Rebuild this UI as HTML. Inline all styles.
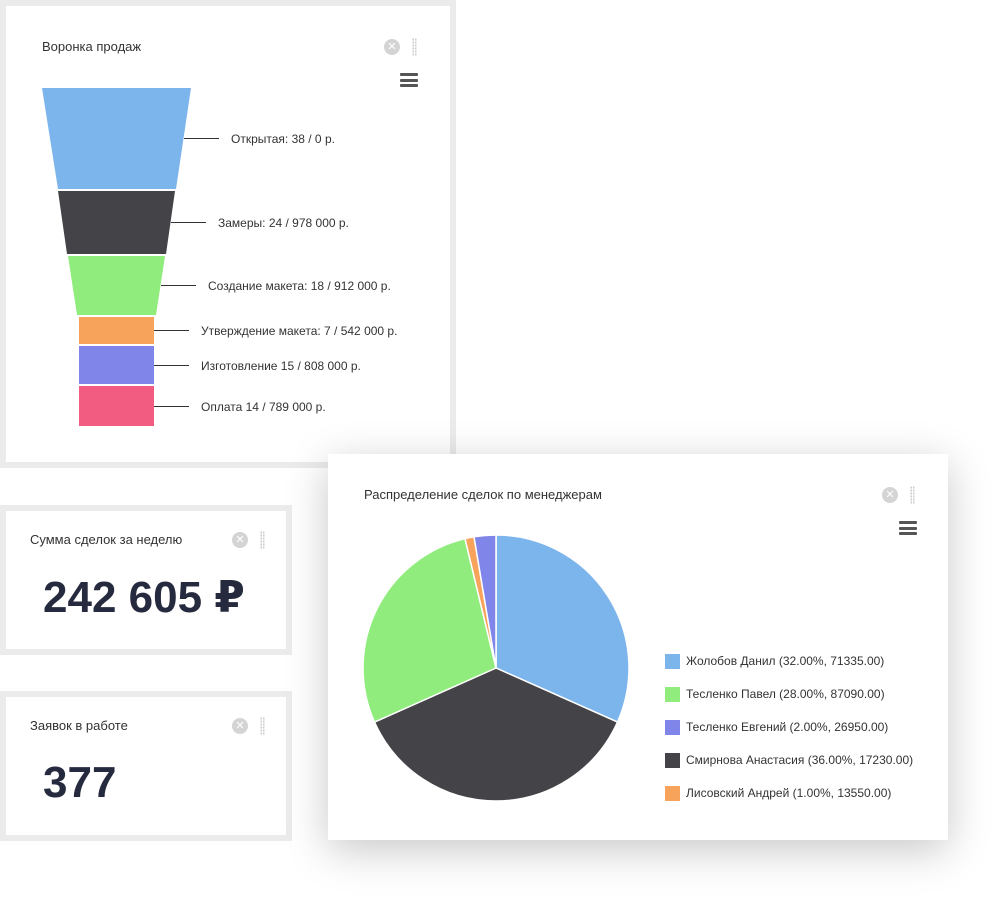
<!DOCTYPE html>
<html><head><meta charset="utf-8"><style>
body{margin:0;width:1008px;height:916px;background:#fff;position:relative;overflow:hidden;font-family:"Liberation Sans","DejaVu Sans",sans-serif;color:#333}
.p{position:absolute;background:#fff;border:6px solid #ebebeb;box-sizing:border-box}
.t{position:absolute;font-size:13px;color:#333}
.x{position:absolute;width:16px;height:16px;border-radius:50%;background:#d4d4d4;color:#fff;font-size:11px;line-height:16px;text-align:center}
.d{position:absolute;width:5px;height:18px;background-image:radial-gradient(circle,#ccc 0.9px,transparent 1px);background-size:2.5px 3px}
.m{position:absolute;width:18px;height:14px}
.m i{display:block;height:3px;background:#555;margin-bottom:2.5px;border-radius:1px}
.big{position:absolute;font-size:44px;font-weight:bold;color:#262a3e}
.lg{position:absolute;left:665px;font-size:12px;color:#333}
.lg b{position:absolute;left:0;top:1px;width:15px;height:15px}
.lg span{position:absolute;left:21px;top:0;white-space:nowrap;line-height:17px}
</style></head><body>
<div class="p" style="left:0;top:0;width:456px;height:468px"></div>
<div class="t" style="left:42px;top:39px">Воронка продаж</div>
<div class="x" style="left:384px;top:39px">✕</div>
<div class="d" style="left:412px;top:38px"></div>
<div class="m" style="left:400px;top:73px"><i></i><i></i><i></i></div>
<svg style="position:absolute;left:0;top:0" width="456" height="468">
<polygon points="42,88 191,88 176,189 58,189" fill="#7cb5ec"/>
<polygon points="58,191 175,191 166,254 67,254" fill="#434348"/>
<polygon points="68,256 165,256 156,315 77,315" fill="#90ed7d"/>
<rect x="79" y="317" width="75" height="27" fill="#f7a35c"/>
<rect x="79" y="346" width="75" height="38" fill="#8085e9"/>
<rect x="79" y="386" width="75" height="40" fill="#f15c80"/>
<g stroke="#333" stroke-width="1">
<line x1="184" y1="138.5" x2="219" y2="138.5"/><line x1="171" y1="222.5" x2="206" y2="222.5"/>
<line x1="161" y1="285.5" x2="196" y2="285.5"/><line x1="154" y1="330.5" x2="189" y2="330.5"/>
<line x1="154" y1="365.5" x2="189" y2="365.5"/><line x1="154" y1="406.5" x2="189" y2="406.5"/></g>
<g font-size="12" fill="#333" font-family="Liberation Sans,sans-serif">
<text x="231" y="143">Открытая: 38 / 0 р.</text>
<text x="218" y="227">Замеры: 24 / 978 000 р.</text>
<text x="208" y="290">Создание макета: 18 / 912 000 р.</text>
<text x="201" y="335">Утверждение макета: 7 / 542 000 р.</text>
<text x="201" y="370">Изготовление 15 / 808 000 р.</text>
<text x="201" y="411">Оплата 14 / 789 000 р.</text></g>
</svg>

<div class="p" style="left:0;top:505px;width:292px;height:150px"></div>
<div class="t" style="left:30px;top:532px">Сумма сделок за неделю</div>
<div class="x" style="left:232px;top:532px">✕</div>
<div class="d" style="left:260px;top:531px"></div>
<div class="big" style="left:43px;top:572px">242 605 ₽</div>

<div class="p" style="left:0;top:691px;width:292px;height:150px"></div>
<div class="t" style="left:30px;top:718px">Заявок в работе</div>
<div class="x" style="left:232px;top:718px">✕</div>
<div class="d" style="left:260px;top:717px"></div>
<div class="big" style="left:43px;top:758px">377</div>

<div style="position:absolute;left:328px;top:454px;width:620px;height:386px;background:#fff;box-shadow:0 10px 40px rgba(0,0,0,0.22)"></div>
<div class="t" style="left:364px;top:487px">Распределение сделок по менеджерам</div>
<div class="x" style="left:882px;top:487px">✕</div>
<div class="d" style="left:910px;top:486px"></div>
<div class="m" style="left:899px;top:521px"><i></i><i></i><i></i></div>
<svg style="position:absolute;left:0;top:0" width="1008" height="916">
<g stroke="#fff" stroke-width="1.5" stroke-linejoin="round">
<path d="M496,668 L496,535 A133,133 0 0 1 617.5,722.1 Z" fill="#7cb5ec"/>
<path d="M496,668 L617.5,722.1 A133,133 0 0 1 374.5,722.1 Z" fill="#434348"/>
<path d="M496,668 L374.5,722.1 A133,133 0 0 1 465,538.7 Z" fill="#90ed7d"/>
<path d="M496,668 L465,538.7 A133,133 0 0 1 474,536.8 Z" fill="#f7a35c"/>
<path d="M496,668 L474,536.8 A133,133 0 0 1 496,535 Z" fill="#8085e9"/>
</g></svg>
<div class="lg" style="top:653px"><b style="background:#7cb5ec"></b><span>Жолобов Данил (32.00%, 71335.00)</span></div>
<div class="lg" style="top:686px"><b style="background:#90ed7d"></b><span>Тесленко Павел (28.00%, 87090.00)</span></div>
<div class="lg" style="top:719px"><b style="background:#8085e9"></b><span>Тесленко Евгений (2.00%, 26950.00)</span></div>
<div class="lg" style="top:752px"><b style="background:#434348"></b><span>Смирнова Анастасия (36.00%, 17230.00)</span></div>
<div class="lg" style="top:785px"><b style="background:#f7a35c"></b><span>Лисовский Андрей (1.00%, 13550.00)</span></div>
</body></html>
